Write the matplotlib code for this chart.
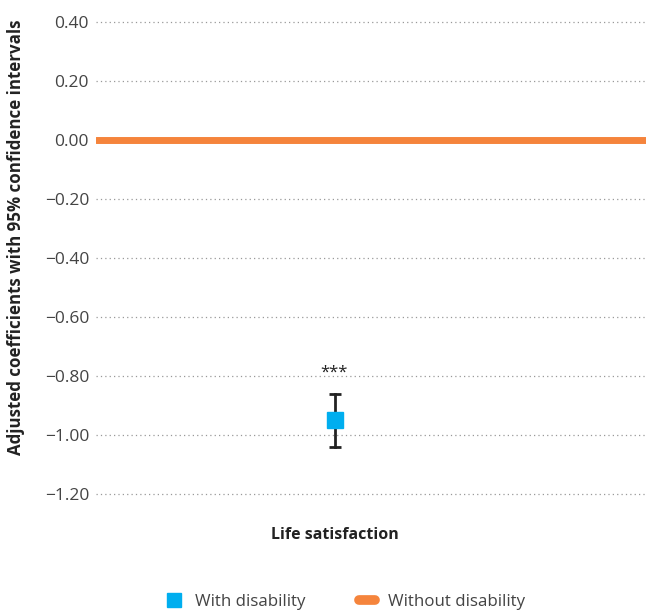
import matplotlib
matplotlib.use("Agg")
import matplotlib.pyplot as plt
from matplotlib.lines import Line2D

categories = ["Life satisfaction"]
with_disability = [-0.95]
ci_low = [-1.04]
ci_high = [-0.86]
without_disability = 0.0
significance = ["***"]
yticks = [0.40, 0.20, 0.00, -0.20, -0.40, -0.60, -0.80, -1.00, -1.20]

plt.rcParams['font.family'] = ['Open Sans', 'DejaVu Sans']

fig = plt.figure(figsize=(6.46, 6.15), dpi=100)
ax = fig.add_axes([96/646, 1-496/615, 550/646, 476/615])

ax.set_ylim(-1.207, 0.407)
ax.set_xlim(-0.435, 0.565)
ax.set_yticks(yticks)
ax.set_yticklabels([f"{v:.2f}".replace("-", "\u2212") for v in yticks], color="#444444", fontsize=12.5)
ax.tick_params(axis='y', length=0, pad=5)
ax.grid(axis='y', linestyle=(0, (1, 2.5)), color="#999999", linewidth=0.9)
ax.set_axisbelow(True)
for s in ax.spines.values():
    s.set_visible(False)

ax.axhline(without_disability, color="#F5843C", linewidth=5, solid_capstyle='round', zorder=2)

x = list(range(len(categories)))
for i in x:
    ax.plot([i, i], [ci_low[i], ci_high[i]], color="#222222", linewidth=2, zorder=3)
    ax.plot([i], [ci_low[i]], marker='_', markersize=9, mew=2, color="#222222", zorder=3)
    ax.plot([i], [ci_high[i]], marker='_', markersize=9, mew=2, color="#222222", zorder=3)
    ax.plot([i], [with_disability[i]], marker='s', markersize=11, color="#00AEEF", zorder=4, linestyle='none')
    ax.text(i - 0.003, ci_high[i] + 0.045, significance[i], ha='center', va='bottom', fontsize=12, color="#222222")

ax.set_xticks(x)
ax.set_xticklabels(categories, fontsize=11.5, fontweight='bold', color="#222222")
ax.tick_params(axis='x', length=0, pad=22)

fig.text(16/646, 1-237/615, "Adjusted coefficients with 95% confidence intervals", rotation=90,
         ha='center', va='center', fontsize=12.2, fontweight='bold', color="#222222")

handles = [
    Line2D([0], [0], marker='s', color='none', markerfacecolor="#00AEEF", markeredgecolor="#00AEEF", markersize=10, label="With disability"),
    Line2D([0], [0], color="#F5843C", linewidth=7, solid_capstyle='round', label="Without disability"),
]
fig.legend(handles=handles, loc='lower center', bbox_to_anchor=(0.535, -0.016), ncol=2, frameon=False,
           fontsize=12.2, handlelength=0.9, columnspacing=3.2, handletextpad=0.8, labelcolor="#444444")

fig.savefig("out.png", dpi=100)
